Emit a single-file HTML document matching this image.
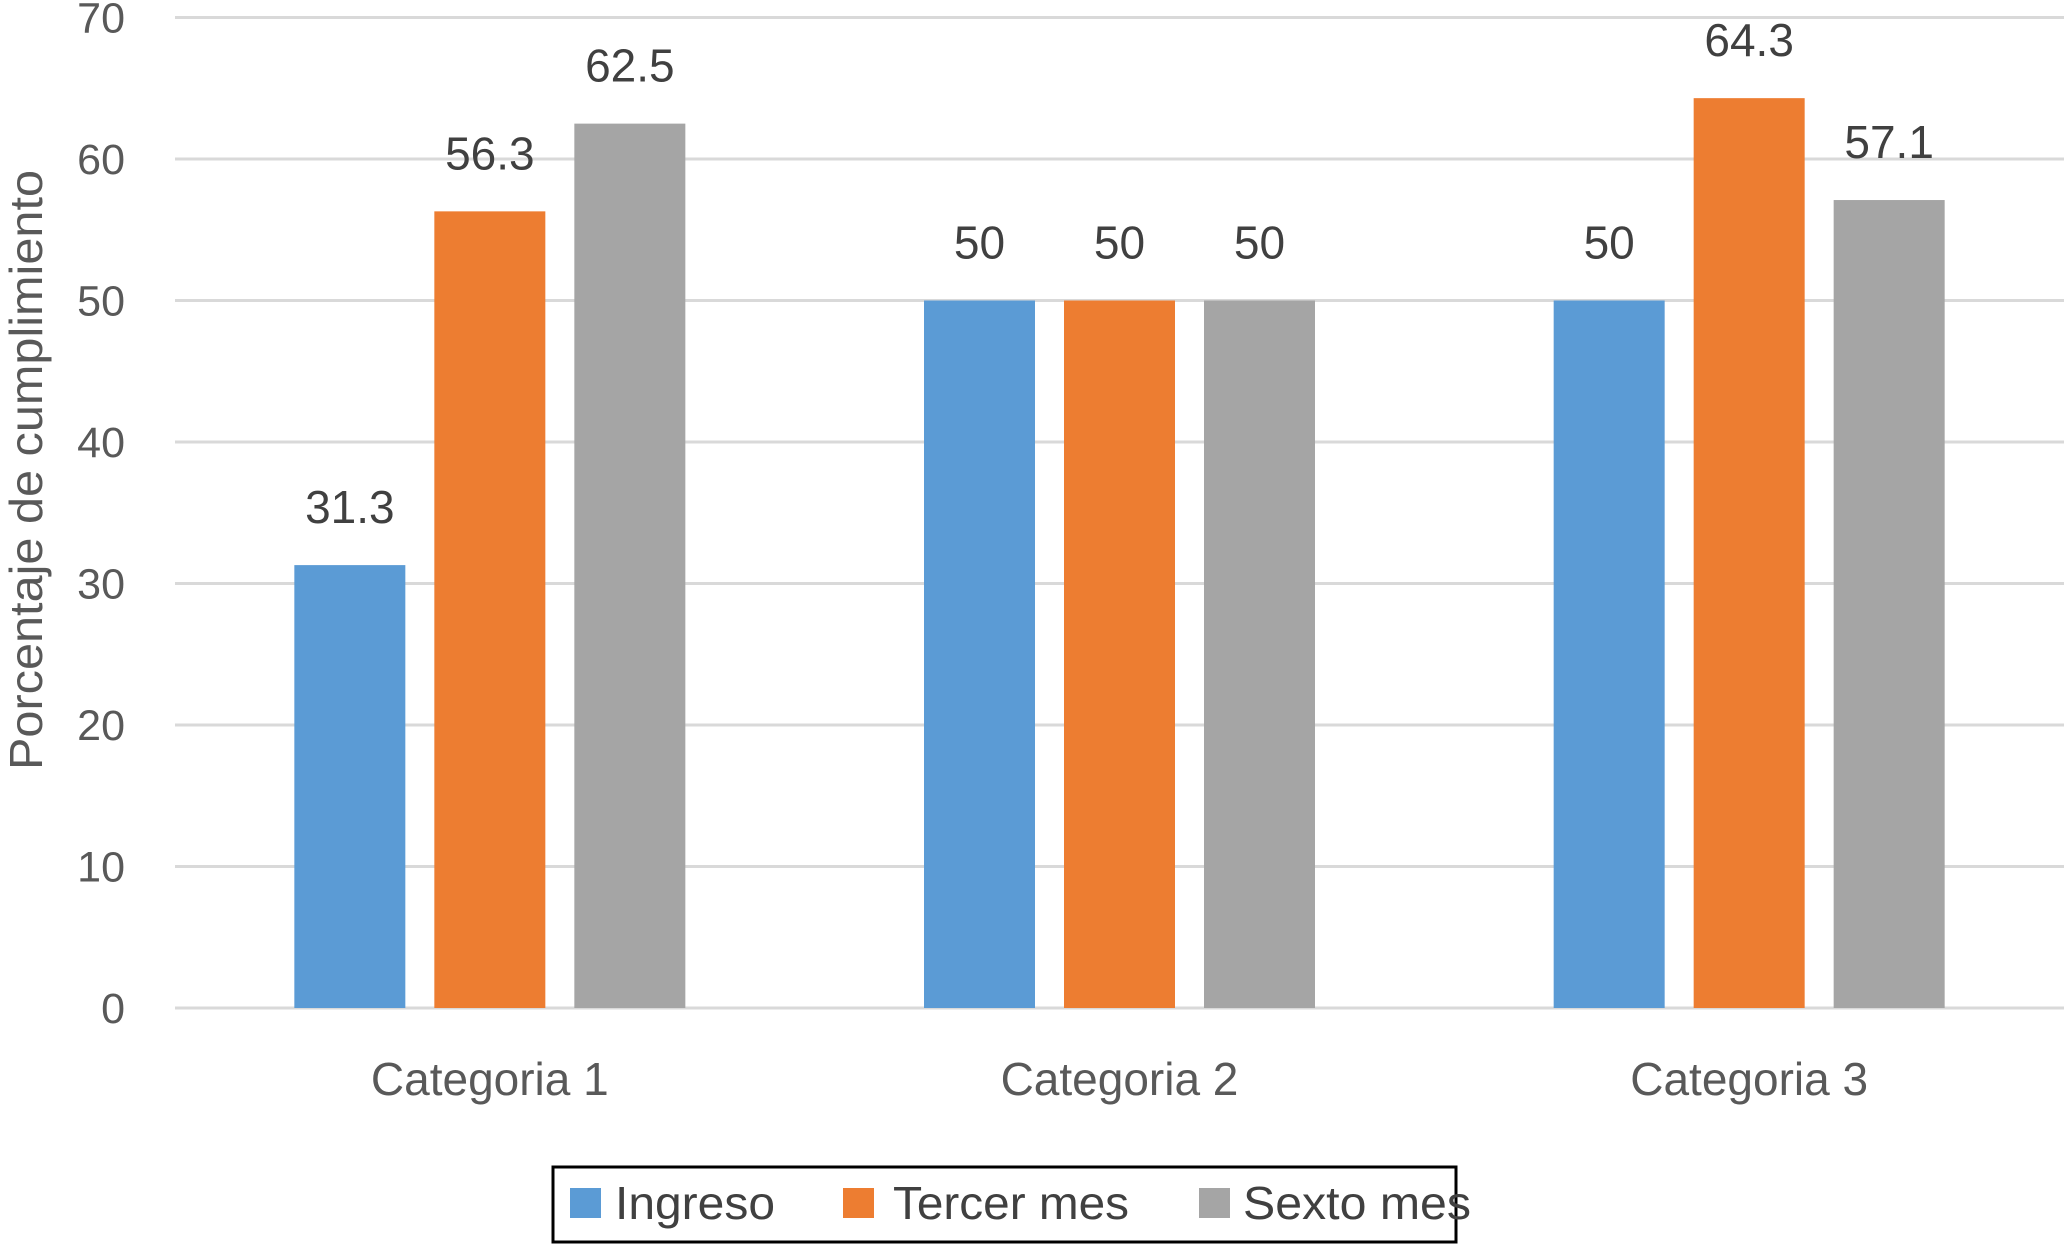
<!DOCTYPE html>
<html><head><meta charset="utf-8"><style>
html,body{margin:0;padding:0;background:#fff;}
svg{display:block;}
text{font-family:"Liberation Sans",sans-serif;}
</style></head><body>
<svg id="chart" width="2064" height="1244" viewBox="0 0 2064 1244" xmlns="http://www.w3.org/2000/svg">
<g id="grid"></g>
<g id="yticks"></g>
<g id="bars"></g>
<g id="xlabels"></g>
<text x="0" y="0" transform="translate(42,470) rotate(-90)" text-anchor="middle" font-size="46" fill="#595959" textLength="600" lengthAdjust="spacingAndGlyphs">Porcentaje de cumplimiento</text>
<g>
<rect x="553" y="1167" width="903" height="75" fill="none" stroke="#000" stroke-width="3"/>
<rect x="570" y="1188" width="31" height="30" fill="#5b9bd5"/>
<text x="615" y="1219" font-size="46" fill="#404040" textLength="160" lengthAdjust="spacingAndGlyphs">Ingreso</text>
<rect x="843" y="1188" width="31" height="30" fill="#ed7d31"/>
<text x="893" y="1219" font-size="46" fill="#404040" textLength="236" lengthAdjust="spacingAndGlyphs">Tercer mes</text>
<rect x="1199" y="1188" width="31" height="30" fill="#a5a5a5"/>
<text x="1243" y="1219" font-size="46" fill="#404040" textLength="228" lengthAdjust="spacingAndGlyphs">Sexto mes</text>
</g>
</svg>
<script>
const categories = ["Categoria 1","Categoria 2","Categoria 3"];
const ingreso = [31.3, 50, 50];
const tercerMes = [56.3, 50, 64.3];
const sextoMes = [62.5, 50, 57.1];
const yTicks = [0,10,20,30,40,50,60,70];
const series = [ingreso, tercerMes, sextoMes];
const colors = ["#5b9bd5","#ed7d31","#a5a5a5"];
const seriesNames = ["ingreso","tercer-mes","sexto-mes"];
const NS = "http://www.w3.org/2000/svg";
const plotL = 175, plotR = 2064, y0 = 1008, y70 = 17.5;
function yScale(v){ return y0 - (v/70)*(y0 - y70); }
const catW = (plotR - plotL)/categories.length;
function xCenter(i){ return plotL + catW*(i+0.5); }
const barW = 111, step = 140;
function mk(tag, attrs, parent){ const e=document.createElementNS(NS,tag); for(const k in attrs) e.setAttribute(k,attrs[k]); parent.appendChild(e); return e; }
const grid=document.getElementById('grid'), yt=document.getElementById('yticks'), bars=document.getElementById('bars'), xl=document.getElementById('xlabels');
yTicks.forEach(t=>{
  const l=mk('line',{x1:plotL,x2:plotR,y1:yScale(t),y2:yScale(t),stroke:'#d9d9d9','stroke-width':3},grid);
  
  
  const tx=mk('text',{x:125,y:yScale(t)+15,'text-anchor':'end','font-size':43,fill:'#595959'},yt);
  tx.textContent=t;
  
  
});
categories.forEach((c,i)=>{
  series.forEach((s,j)=>{
    const cx=xCenter(i)+(j-1)*step;
    const r=mk('rect',{x:cx-barW/2,y:yScale(s[i]),width:barW,height:yScale(0)-yScale(s[i]),fill:colors[j]},bars);
    
    
    const lb=mk('text',{x:cx,y:yScale(s[i])-42,'text-anchor':'middle','font-size':46,fill:'#404040'},bars);
    lb.textContent=String(s[i]);
    
    
  });
  const ct=mk('text',{x:xCenter(i),y:1095,'text-anchor':'middle','font-size':46,fill:'#595959'},xl);
  ct.textContent=c;
  
  
});
</script>
</body></html>
